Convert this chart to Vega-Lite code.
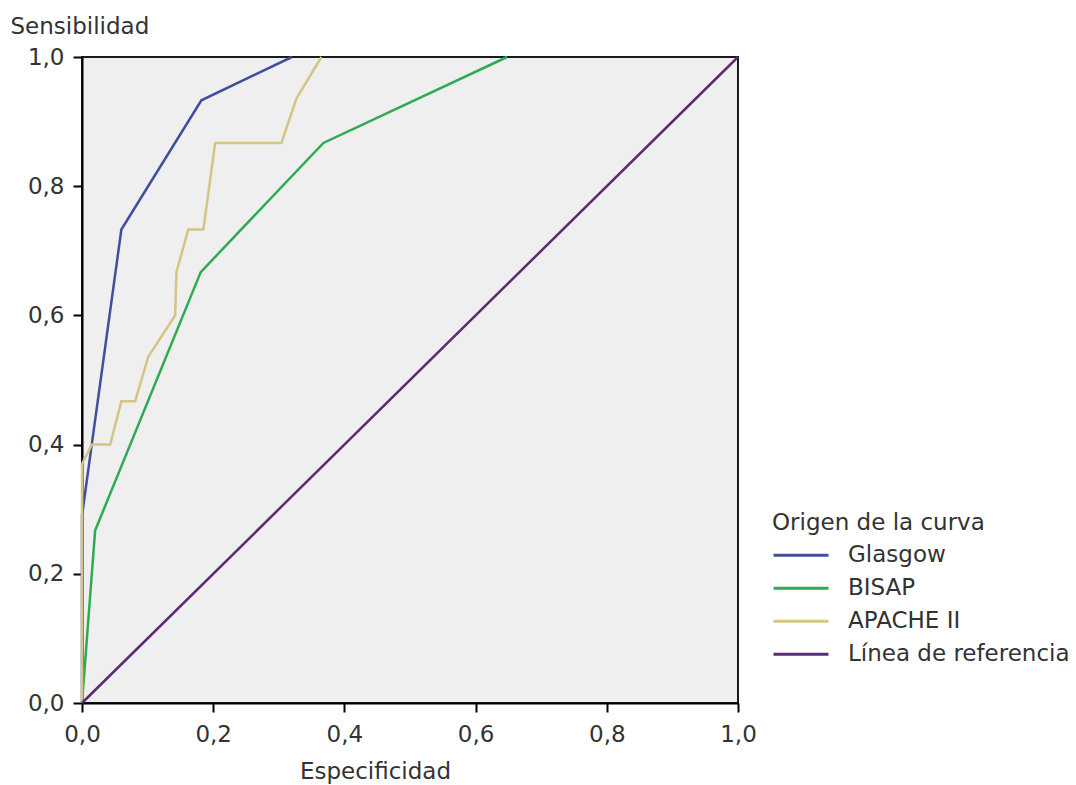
{
  "$schema": "https://vega.github.io/schema/vega-lite/v6.json",
  "width": 656,
  "height": 646,
  "autosize": {"type": "none"},
  "padding": {"left": 82, "top": 57, "right": 338, "bottom": 82},
  "background": "white",
  "config": {
    "font": "DejaVu Sans",
    "view": {"fill": "#efefef", "stroke": "#1a1a1a", "strokeWidth": 2}
  },
  "data": {
    "values": [
      {"curva": "Glasgow", "i": 0, "esp": 0, "sens": 0},
      {"curva": "Glasgow", "i": 1, "esp": 0, "sens": 0.29},
      {"curva": "Glasgow", "i": 2, "esp": 0.06, "sens": 0.733},
      {"curva": "Glasgow", "i": 3, "esp": 0.182, "sens": 0.933},
      {"curva": "Glasgow", "i": 4, "esp": 0.32, "sens": 1.0},
      {"curva": "BISAP", "i": 0, "esp": 0, "sens": 0},
      {"curva": "BISAP", "i": 1, "esp": 0.02, "sens": 0.267},
      {"curva": "BISAP", "i": 2, "esp": 0.181, "sens": 0.667},
      {"curva": "BISAP", "i": 3, "esp": 0.368, "sens": 0.867},
      {"curva": "BISAP", "i": 4, "esp": 0.648, "sens": 1.0},
      {"curva": "APACHE II", "i": 0, "esp": 0, "sens": 0},
      {"curva": "APACHE II", "i": 1, "esp": 0, "sens": 0.37},
      {"curva": "APACHE II", "i": 2, "esp": 0.015, "sens": 0.4},
      {"curva": "APACHE II", "i": 3, "esp": 0.043, "sens": 0.4},
      {"curva": "APACHE II", "i": 4, "esp": 0.06, "sens": 0.467},
      {"curva": "APACHE II", "i": 5, "esp": 0.081, "sens": 0.467},
      {"curva": "APACHE II", "i": 6, "esp": 0.101, "sens": 0.536},
      {"curva": "APACHE II", "i": 7, "esp": 0.142, "sens": 0.6},
      {"curva": "APACHE II", "i": 8, "esp": 0.144, "sens": 0.667},
      {"curva": "APACHE II", "i": 9, "esp": 0.162, "sens": 0.733},
      {"curva": "APACHE II", "i": 10, "esp": 0.185, "sens": 0.733},
      {"curva": "APACHE II", "i": 11, "esp": 0.203, "sens": 0.867},
      {"curva": "APACHE II", "i": 12, "esp": 0.304, "sens": 0.867},
      {"curva": "APACHE II", "i": 13, "esp": 0.327, "sens": 0.936},
      {"curva": "APACHE II", "i": 14, "esp": 0.365, "sens": 1.0},
      {"curva": "Línea de referencia", "i": 0, "esp": 0, "sens": 0},
      {"curva": "Línea de referencia", "i": 1, "esp": 1, "sens": 1}
    ]
  },
  "mark": {"type": "line", "strokeWidth": 2.5},
  "encoding": {
    "x": {
      "field": "esp",
      "type": "quantitative",
      "scale": {"domain": [0, 1], "nice": false},
      "axis": {
        "title": "Especificidad",
        "values": [0, 0.2, 0.4, 0.6, 0.8, 1],
        "labelExpr": "replace(format(datum.value, '.1f'), '.', ',')",
        "grid": false,
        "domainColor": "#000",
        "domainWidth": 2,
        "tickColor": "#000",
        "tickWidth": 2,
        "tickSize": 9,
        "labelFontSize": 23,
        "labelColor": "#333",
        "labelPadding": 11,
        "labelFlush": false,
        "labelOverlap": false,
        "titleFontSize": 23,
        "titleFontWeight": "normal",
        "titleColor": "#333",
        "titleX": 293,
        "titleY": 75,
        "titleAlign": "center",
        "titleBaseline": "alphabetic"
      }
    },
    "y": {
      "field": "sens",
      "type": "quantitative",
      "scale": {"domain": [0, 1], "nice": false},
      "axis": {
        "title": "Sensibilidad",
        "values": [0, 0.2, 0.4, 0.6, 0.8, 1],
        "labelExpr": "replace(format(datum.value, '.1f'), '.', ',')",
        "grid": false,
        "domainColor": "#000",
        "domainWidth": 2,
        "tickColor": "#000",
        "tickWidth": 2,
        "tickSize": 9,
        "labelFontSize": 23,
        "labelColor": "#333",
        "labelPadding": 9,
        "labelFlush": false,
        "labelOverlap": false,
        "titleFontSize": 23,
        "titleFontWeight": "normal",
        "titleColor": "#333",
        "titleAngle": 0,
        "titleAlign": "left",
        "titleBaseline": "alphabetic",
        "titleX": -72,
        "titleY": -24
      }
    },
    "color": {
      "field": "curva",
      "type": "nominal",
      "scale": {
        "domain": ["Glasgow", "BISAP", "APACHE II", "Línea de referencia"],
        "range": ["#3f4f9e", "#2eaa55", "#d4c584", "#5a2a74"]
      },
      "legend": {
        "title": "Origen de la curva",
        "orient": "none",
        "legendX": 690,
        "legendY": 455,
        "symbolType": "stroke",
        "symbolSize": 3025,
        "symbolStrokeWidth": 3,
        "clipHeight": 32.5,
        "rowPadding": 0,
        "titlePadding": 4,
        "labelOffset": 18,
        "labelFontSize": 23,
        "titleFontSize": 23,
        "titleFontWeight": "normal",
        "labelColor": "#333",
        "titleColor": "#333",
        "padding": 0,
        "labelLimit": 400,
        "titleLimit": 400
      }
    },
    "order": {"field": "i", "type": "quantitative"},
    "strokeWidth": {
      "condition": {"test": "datum.curva === 'APACHE II'", "value": 2},
      "value": 2.5
    }
  }
}
